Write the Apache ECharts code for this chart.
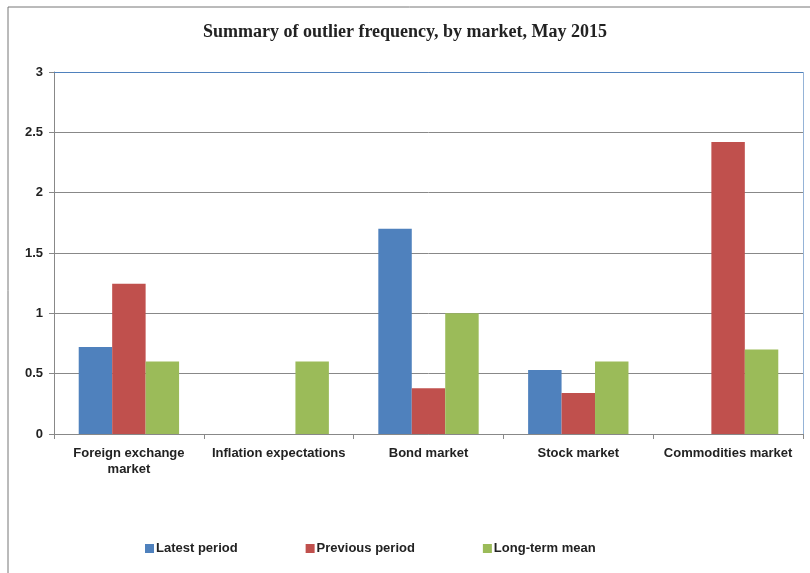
<!DOCTYPE html>
<html><head><meta charset="utf-8">
<script src="https://cdn.jsdelivr.net/npm/echarts@6/dist/echarts.min.js"></script>
<style>html,body{margin:0;padding:0;background:#fff}#c{width:810px;height:573px}</style>
</head><body><div id="c"></div>
<script>
const categories = ['Foreign exchange\nmarket', 'Inflation expectations', 'Bond market', 'Stock market', 'Commodities market'];
const latestPeriod = [0.72, 0, 1.70, 0.53, 0];
const previousPeriod = [1.245, 0, 0.38, 0.34, 2.42];
const longTermMean = [0.6, 0.6, 1.0, 0.6, 0.7];
const seriesNames = ['Latest period', 'Previous period', 'Long-term mean'];
const colors = ['#4F81BD', '#C0504D', '#9BBB59'];

const chart = echarts.init(document.getElementById('c'), null, {renderer: 'canvas'});
const mk = (name, data, i) => ({
  name, type: 'bar', data, barGap: '0%', barCategoryGap: '33%',
  itemStyle: {color: colors[i]}
});
chart.setOption({
  animation: false,
  color: colors,
  title: {
    text: 'Summary of outlier frequency, by market, May 2015',
    left: 'center', top: 18,
    textStyle: {fontFamily: 'Liberation Serif', fontWeight: 'bold', fontSize: 18, color: '#222'}
  },
  graphic: [{
    type: 'rect', shape: {x: 8, y: 7, width: 820, height: 600},
    style: {fill: 'none', stroke: '#777', lineWidth: 1}, silent: true, z: -1
  }, {
    type: 'line', shape: {x1: 54, y1: 72.5, x2: 803, y2: 72.5},
    style: {stroke: '#4F81BD', lineWidth: 1}, z: 10
  }, {
    type: 'line', shape: {x1: 803.5, y1: 72, x2: 803.5, y2: 434},
    style: {stroke: '#95B3D7', lineWidth: 1}, z: 10
  }],
  legend: {
    bottom: 13, left: 140, itemGap: 68, itemWidth: 9, itemHeight: 9,
    icon: 'rect',
    textStyle: {fontFamily: 'Liberation Sans', fontWeight: 'bold', fontSize: 13, color: '#222', padding: [0, 0, 0, -3]},
    data: seriesNames
  },
  grid: {left: 54, right: 7, top: 72, bottom: 139, containLabel: false},
  xAxis: {
    type: 'category', data: categories,
    axisLine: {lineStyle: {color: '#888'}},
    axisTick: {show: true, length: 5, lineStyle: {color: '#888'}},
    axisLabel: {fontFamily: 'Liberation Sans', fontWeight: 'bold', fontSize: 13, color: '#222', margin: 11, lineHeight: 16, interval: 0}
  },
  yAxis: {
    type: 'value', min: 0, max: 3, interval: 0.5,
    axisLine: {show: true, lineStyle: {color: '#888'}},
    axisTick: {show: true, length: 5, lineStyle: {color: '#888'}},
    splitLine: {lineStyle: {color: '#888'}},
    axisLabel: {fontFamily: 'Liberation Sans', fontWeight: 'bold', fontSize: 13, color: '#222', margin: 11}
  },
  series: [mk(seriesNames[0], latestPeriod, 0), mk(seriesNames[1], previousPeriod, 1), mk(seriesNames[2], longTermMean, 2)]
});
</script></body></html>
